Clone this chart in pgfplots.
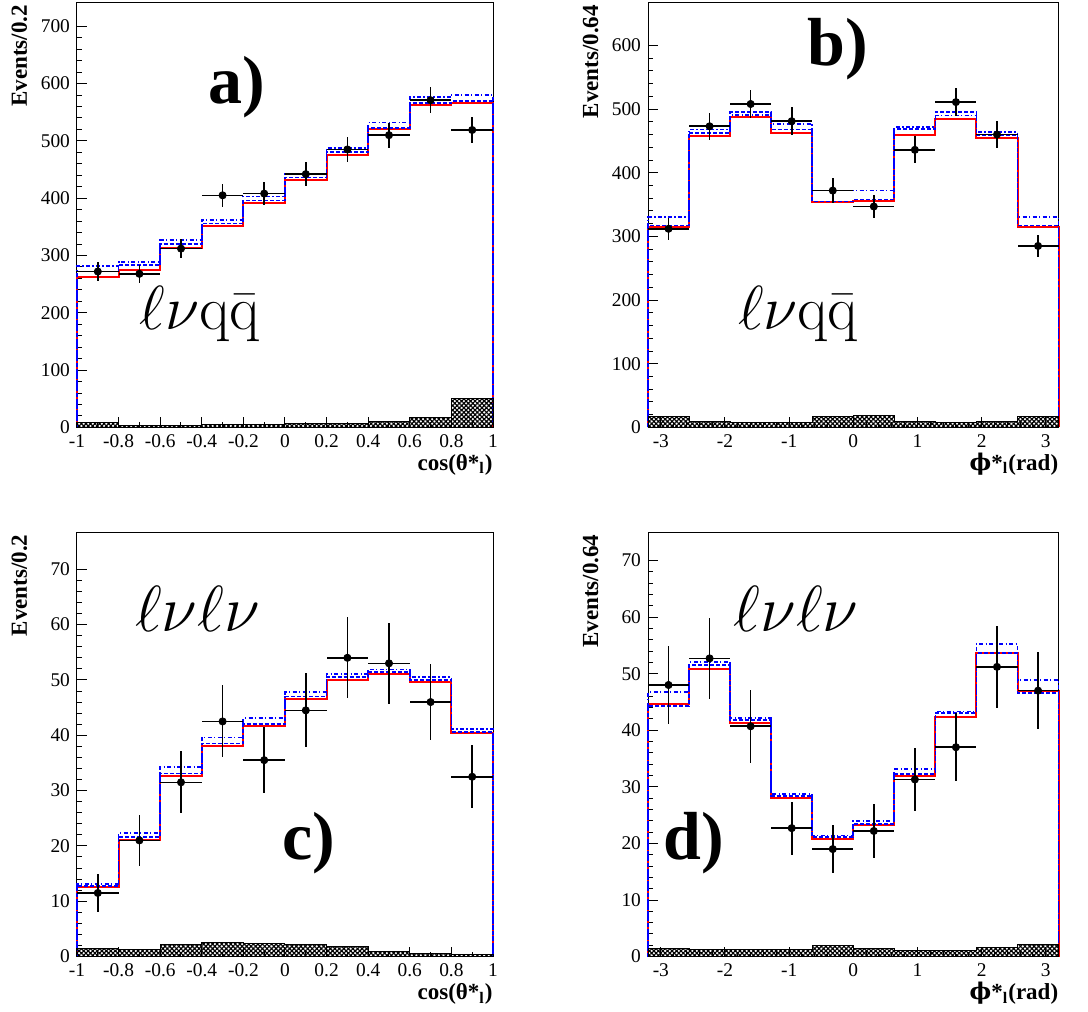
\documentclass[border=0pt]{standalone}
\usepackage[no-math]{fontspec}
\setmainfont{Liberation Serif}
\newfontfamily\dvserif{DejaVu Serif}
\usepackage{pgfplots}
\pgfplotsset{compat=1.18}
\usetikzlibrary{patterns.meta}

\pgfplotsset{
  common/.style={
    scale only axis, anchor=south west, clip=false,
    axis line style={line width=0.5pt},
    tick align=inside, xtick pos=bottom, ytick pos=left,
    major tick length=5pt, minor tick length=2.5pt,
    tick style={black, line width=0.5pt},
    minor y tick num=4,
    ticklabel style={font=\rmfamily\fontsize{9.7}{11}\selectfont},
    /pgf/number format/assume math mode=true,
  },
  hred/.style={const plot, color=red, line width=1pt, mark=none},
  hdash/.style={const plot, color=blue, line width=0.9pt, mark=none, dash pattern=on 2pt off 1pt},
  hdd/.style={const plot, color=blue, line width=0.9pt, mark=none, dash pattern=on 2pt off 1.2pt on 0.6pt off 1.2pt},
  hbg/.style={const plot, draw=black, line width=0.5pt, mark=none, pattern={Hatch[angle=45,distance=1.6pt,line width=0.6pt]}},
  hdata/.style={only marks, mark=*, mark size=1.8pt, color=black,
    error bars/.cd, x dir=both, x explicit, y dir=both, y explicit, error mark=none,
    error bar style={line width=0.8pt, black}},
}
\tikzset{
  ylab/.style={font=\rmfamily\bfseries\fontsize{11.5}{13}\selectfont, rotate=90, anchor=base east, inner sep=0pt},
  xlab/.style={font=\rmfamily\bfseries\fontsize{11.5}{13}\selectfont, anchor=base east, inner sep=0pt},
}
\newcommand{\panel}{\rmfamily\bfseries\fontsize{34}{38}\selectfont}
\newcommand{\chan}{\fontsize{20.74}{24}\selectfont}
\newcommand{\philab}{{\dvserif\bfseries ϕ}*\textsubscript{l}(rad)}

\begin{document}
\begin{tikzpicture}
\useasboundingbox (0,0) rectangle (544pt,506pt);

% ---------------- a) ----------------
\begin{axis}[common, at={(38.5pt,292.3pt)}, width=208pt, height=212.3pt,
  xmin=-1, xmax=1, ymin=0, ymax=741,
  xtick={-1,-0.8,-0.6,-0.4,-0.2,0,0.2,0.4,0.6,0.8,1}, minor x tick num=1,
  ytick={0,100,200,300,400,500,600,700}]
\addplot[hred] coordinates {(-1,0)(-1,262)(-0.8,275)(-0.6,313)(-0.4,351)(-0.2,391)(0,432)(0.2,476)(0.4,520)(0.6,562)(0.8,566)(1,566)(1,0)};
\addplot[hdash] coordinates {(-1,0)(-1,272)(-0.8,283)(-0.6,320)(-0.4,356)(-0.2,396)(0,436)(0.2,480)(0.4,523)(0.6,566)(0.8,569)(1,569)(1,0)};
\addplot[hdd] coordinates {(-1,0)(-1,281)(-0.8,289)(-0.6,327)(-0.4,362)(-0.2,403)(0,443)(0.2,487)(0.4,532)(0.6,576)(0.8,580)(1,580)(1,0)};
\addplot[hbg] coordinates {(-1,0)(-1,8)(-0.8,4)(-0.6,4)(-0.4,5)(-0.2,5)(0,6)(0.2,7)(0.4,10)(0.6,18)(0.8,51)(1,51)(1,0)} \closedcycle;
\addplot[hdata] coordinates {
 (-0.9,272) +- (0.1,16) (-0.7,268) +- (0.1,16) (-0.5,312) +- (0.1,17)
 (-0.3,405) +- (0.1,20) (-0.1,408) +- (0.1,20) (0.1,442) +- (0.1,21)
 (0.3,485) +- (0.1,22) (0.5,510) +- (0.1,22) (0.7,571) +- (0.1,23)
 (0.9,519) +- (0.1,23)};
\node[font=\panel, anchor=base] at (axis cs:-0.23,566) {a)};
\node[font=\chan, scale=1.5, anchor=base] at (axis cs:-0.41,170) {$\ell\nu\mathrm{q}\bar{\mathrm{q}}$};
\node[ylab] at ([xshift=-25pt,yshift=-1pt]rel axis cs:0,1) {Events/0.2};
\node[xlab] at ([yshift=-21.5pt]rel axis cs:1,0) {cos(θ*\textsubscript{l})};
\end{axis}

% ---------------- b) ----------------
\begin{axis}[common, at={(324pt,292.3pt)}, width=205.3pt, height=212.3pt,
  xmin=-3.2, xmax=3.2, ymin=0, ymax=667,
  xtick={-3,-2,-1,0,1,2,3}, minor x tick num=4,
  ytick={0,100,200,300,400,500,600}]
\addplot[hred] coordinates {(-3.2,0)(-3.2,315)(-2.56,458)(-1.92,487)(-1.28,463)(-0.64,354)(0,355)(0.64,460)(1.28,484)(1.92,454)(2.56,315)(3.2,315)(3.2,0)};
\addplot[hdash] coordinates {(-3.2,0)(-3.2,317)(-2.56,463)(-1.92,495)(-1.28,468)(-0.64,355)(0,358)(0.64,469)(1.28,496)(1.92,459)(2.56,317)(3.2,317)(3.2,0)};
\addplot[hdd] coordinates {(-3.2,0)(-3.2,330)(-2.56,468)(-1.92,491)(-1.28,477)(-0.64,372)(0,372)(0.64,472)(1.28,490)(1.92,464)(2.56,330)(3.2,330)(3.2,0)};
\addplot[hbg] coordinates {(-3.2,0)(-3.2,17)(-2.56,10)(-1.92,7)(-1.28,8)(-0.64,17)(0,19)(0.64,10)(1.28,8)(1.92,9)(2.56,17)(3.2,17)(3.2,0)} \closedcycle;
\addplot[hdata] coordinates {
 (-2.88,312) +- (0.32,17) (-2.24,473) +- (0.32,21) (-1.6,508) +- (0.32,22)
 (-0.96,481) +- (0.32,22) (-0.32,372) +- (0.32,19) (0.32,347) +- (0.32,18)
 (0.96,436) +- (0.32,21) (1.6,511) +- (0.32,22) (2.24,460) +- (0.32,21)
 (2.88,285) +- (0.32,17)};
\node[font=\panel, anchor=base] at (axis cs:-0.24,569) {b)};
\node[font=\chan, scale=1.5, anchor=base] at (axis cs:-0.86,153) {$\ell\nu\mathrm{q}\bar{\mathrm{q}}$};
\node[ylab] at ([xshift=-25pt,yshift=-1pt]rel axis cs:0,1) {Events/0.64};
\node[xlab] at ([yshift=-21.5pt]rel axis cs:1,0) {\philab};
\end{axis}

% ---------------- c) ----------------
\begin{axis}[common, at={(38.5pt,27.7pt)}, width=208pt, height=212.2pt,
  xmin=-1, xmax=1, ymin=0, ymax=76.7,
  xtick={-1,-0.8,-0.6,-0.4,-0.2,0,0.2,0.4,0.6,0.8,1}, minor x tick num=1,
  ytick={0,10,20,30,40,50,60,70}]
\addplot[hred] coordinates {(-1,0)(-1,12.5)(-0.8,21.1)(-0.6,32.7)(-0.4,38.1)(-0.2,41.7)(0,46.6)(0.2,49.9)(0.4,51.1)(0.6,49.6)(0.8,40.4)(1,40.4)(1,0)};
\addplot[hdash] coordinates {(-1,0)(-1,12.8)(-0.8,21.6)(-0.6,33.1)(-0.4,38.5)(-0.2,42.0)(0,47.0)(0.2,50.5)(0.4,51.5)(0.6,50.0)(0.8,40.6)(1,40.6)(1,0)};
\addplot[hdd] coordinates {(-1,0)(-1,13.1)(-0.8,22.3)(-0.6,34.3)(-0.4,39.6)(-0.2,43.1)(0,47.8)(0.2,51.1)(0.4,51.9)(0.6,50.5)(0.8,41.1)(1,41.1)(1,0)};
\addplot[hbg] coordinates {(-1,0)(-1,1.5)(-0.8,1.2)(-0.6,2.2)(-0.4,2.5)(-0.2,2.3)(0,2.2)(0.2,1.8)(0.4,1.0)(0.6,0.5)(0.8,0.4)(1,0.4)(1,0)} \closedcycle;
\addplot[hdata] coordinates {
 (-0.9,11.5) +- (0.1,3.4) (-0.7,21.0) +- (0.1,4.6) (-0.5,31.5) +- (0.1,5.6)
 (-0.3,42.5) +- (0.1,6.5) (-0.1,35.5) +- (0.1,6.0) (0.1,44.5) +- (0.1,6.7)
 (0.3,54.0) +- (0.1,7.3) (0.5,53.0) +- (0.1,7.3) (0.7,46.0) +- (0.1,6.8)
 (0.9,32.5) +- (0.1,5.7)};
\node[font=\panel, anchor=base] at (axis cs:0.115,17.6) {c)};
\node[font=\chan, scale=1.57, anchor=base] at (axis cs:-0.42,58.7) {$\ell\nu\ell\nu$};
\node[ylab] at ([xshift=-25pt,yshift=-1pt]rel axis cs:0,1) {Events/0.2};
\node[xlab] at ([yshift=-21.5pt]rel axis cs:1,0) {cos(θ*\textsubscript{l})};
\end{axis}

% ---------------- d) ----------------
\begin{axis}[common, at={(324pt,27.7pt)}, width=205.3pt, height=212.2pt,
  xmin=-3.2, xmax=3.2, ymin=0, ymax=75,
  xtick={-3,-2,-1,0,1,2,3}, minor x tick num=4,
  ytick={0,10,20,30,40,50,60,70}]
\addplot[hred] coordinates {(-3.2,0)(-3.2,44.7)(-2.56,50.8)(-1.92,41.3)(-1.28,28.0)(-0.64,20.7)(0,23.2)(0.64,32.0)(1.28,42.3)(1.92,53.6)(2.56,47.0)(3.2,47.0)(3.2,0)};
\addplot[hdash] coordinates {(-3.2,0)(-3.2,44.3)(-2.56,51.6)(-1.92,41.8)(-1.28,28.4)(-0.64,21.1)(0,23.5)(0.64,32.3)(1.28,43.1)(1.92,53.6)(2.56,46.6)(3.2,46.6)(3.2,0)};
\addplot[hdd] coordinates {(-3.2,0)(-3.2,46.7)(-2.56,52.0)(-1.92,42.2)(-1.28,28.8)(-0.64,21.4)(0,23.9)(0.64,33.1)(1.28,43.3)(1.92,55.2)(2.56,48.9)(3.2,48.9)(3.2,0)};
\addplot[hbg] coordinates {(-3.2,0)(-3.2,1.5)(-2.56,1.2)(-1.92,1.2)(-1.28,1.2)(-0.64,1.9)(0,1.4)(0.64,1.0)(1.28,1.0)(1.92,1.6)(2.56,2.1)(3.2,2.1)(3.2,0)} \closedcycle;
\addplot[hdata] coordinates {
 (-2.88,48.0) +- (0.32,6.9) (-2.24,52.7) +- (0.32,7.2) (-1.6,40.7) +- (0.32,6.4)
 (-0.96,22.7) +- (0.32,4.7) (-0.32,19.0) +- (0.32,4.3) (0.32,22.2) +- (0.32,4.7)
 (0.96,31.3) +- (0.32,5.6) (1.6,37.0) +- (0.32,6.0) (2.24,51.2) +- (0.32,7.2)
 (2.88,47.0) +- (0.32,6.8)};
\node[font=\panel, anchor=base] at (axis cs:-2.49,17.2) {d)};
\node[font=\chan, scale=1.57, anchor=base] at (axis cs:-0.89,57.4) {$\ell\nu\ell\nu$};
\node[ylab] at ([xshift=-25pt,yshift=-1pt]rel axis cs:0,1) {Events/0.64};
\node[xlab] at ([yshift=-21.5pt]rel axis cs:1,0) {\philab};
\end{axis}
\end{tikzpicture}
\end{document}
